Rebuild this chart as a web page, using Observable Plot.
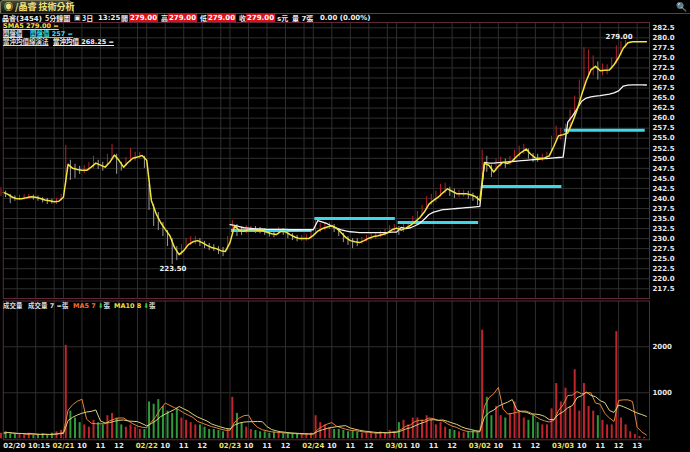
<!DOCTYPE html>
<html><head><meta charset="utf-8">
<script src="https://cdn.jsdelivr.net/npm/d3@7"></script>
<script src="https://cdn.jsdelivr.net/npm/@observablehq/plot@0.6"></script>
<style>
html,body{margin:0;padding:0;background:#000;}
body{width:690px;height:452px;position:relative;overflow:hidden;font-family:"DejaVu Sans","Noto Sans CJK TC",sans-serif;color:#e8e8e8;}
.abs{position:absolute;white-space:nowrap;}
#tab{left:0;top:0;width:72px;height:12px;background:linear-gradient(#44443a,#141410);border:1px solid #77775a;border-bottom:none;border-radius:3px 7px 0 0;}
#tabtxt{left:4px;top:0;font:bold 9px "Noto Sans CJK TC";color:#f2e27a;line-height:13px;}
#tabline{left:0;top:13px;width:690px;height:1px;background:#4a4a38;}
.hdr{top:14px;font:bold 7px "DejaVu Sans","Noto Sans CJK TC";line-height:9px;color:#eee;}
.cj{font:bold 7px "Noto Sans CJK TC";line-height:9px;}
.box{background:#d8101a;color:#fff;padding:0 1px;}
.leg{font:bold 6.5px "DejaVu Sans","Noto Sans CJK TC";line-height:7px;}
.u{text-decoration:underline;}
#price,#vol{position:absolute;left:0;}
#price{top:0;} #vol{top:298px;}
</style></head>
<body>
<div id="tab" class="abs"></div>
<div id="tabtxt" class="abs">◉ /晶睿 技術分析</div>
<div id="tabline" class="abs"></div>
<div class="abs hdr" style="left:2px"><span class="cj">晶睿</span>(3454)</div>
<div class="abs hdr cj" style="left:45px;top:14px">5分鐘圖</div>
<div class="abs hdr" style="left:74px">▣</div>
<div class="abs hdr cj" style="left:82px;top:14px">3日</div>
<div class="abs hdr" style="left:98px">13:25</div>
<div class="abs hdr cj" style="left:121px;top:14px">開</div><div class="abs hdr box" style="left:129px">279.00</div>
<div class="abs hdr cj" style="left:161px;top:14px">高</div><div class="abs hdr box" style="left:168px">279.00</div>
<div class="abs hdr cj" style="left:200px;top:14px">低</div><div class="abs hdr box" style="left:207px">279.00</div>
<div class="abs hdr cj" style="left:239px;top:14px">收</div><div class="abs hdr box" style="left:246px">279.00</div>
<div class="abs hdr" style="left:277px">s<span class="cj">元</span></div>
<div class="abs hdr" style="left:292px"><span class="cj">量</span> 7<span class="cj">張</span></div>
<div class="abs hdr" style="left:320px">0.00 (0.00%)</div>
<div class="abs" style="left:676px;top:2px;color:#8ab;font:bold 9px 'DejaVu Sans'">🔍</div>
<div id="price"></div>
<div id="vol"></div>
<div class="abs leg u" style="left:3px;top:23px;color:#f0e040">SMA5 279.00 =</div>
<div class="abs leg u" style="left:3px;top:31px;color:#ddd">開盤價</div>
<div class="abs leg u" style="left:30px;top:31px;color:#3dd8e8">開盤價 257 =</div>
<div class="abs leg u" style="left:3px;top:39px;color:#ddd">當沖均價線演法</div>
<div class="abs leg u" style="left:53px;top:39px;color:#eee">當沖均價 268.25 =</div>
<div class="abs leg" style="left:3px;top:303px;color:#ddd">成交量</div>
<div class="abs leg" style="left:28px;top:303px;color:#ddd">成交量 7 =張</div>
<div class="abs leg" style="left:73px;top:303px;color:#f07030">MA5 7 <span style="color:#3c3">⬇</span><span style="color:#ddd">張</span></div>
<div class="abs leg" style="left:114px;top:303px;color:#e8e040">MA10 8 <span style="color:#3c3">⬇</span><span style="color:#ddd">張</span></div>
<script>
// 15-minute samples, continuous minute axis (each trading day = 270 min, 09:00-13:30)
const startMinute = 75;       // 02/20 10:15
const stepMinutes = 15;
const dayLabels = ["02/21","02/22","02/23","02/24","03/01","03/02","03/03"];
const firstLabel = "02/20 10:15";
const hourLabels = ["10","11","12","13"];
const priceTicks = [217.5,220,222.5,225,227.5,230,232.5,235,237.5,240,242.5,245,247.5,250,252.5,255,257.5,260,262.5,265,267.5,270,272.5,275,277.5,280,282.5];
const volTicks = [1000,2000];

// SMA5 (yellow line) read at each 15-min sample
const sma5 = [241.5,241.0,240.3,239.9,239.9,240.2,240.4,240.3,240.0,239.6,239.4,239.2,239.3,240.3,
248.5,247.5,247.2,247.0,247.0,247.8,248.8,248.3,247.8,249.0,250.8,249.5,247.8,249.0,250.0,250.3,250.7,249.5,
239.5,236.3,234.0,232.3,230.7,227.8,226.0,227.0,228.5,229.2,229.5,229.0,228.3,227.8,227.5,227.0,226.8,229.0,
233.2,232.0,231.8,232.2,232.2,232.1,232.0,231.6,231.2,231.0,231.8,231.7,231.0,230.4,230.0,230.0,230.0,230.8,
231.9,232.5,232.9,233.2,232.6,231.5,230.3,229.5,229.2,229.0,229.5,230.1,230.5,230.7,231.0,231.4,232.2,232.6,
232.1,232.6,233.3,234.2,235.2,236.6,238.6,239.5,240.3,241.4,242.4,241.8,241.2,241.2,241.2,240.9,240.5,239.5,
248.8,248.2,246.6,248.0,249.0,248.7,249.3,250.5,251.5,252.3,251.0,250.1,250.0,250.1,250.6,253.0,255.6,255.9,
256.3,259.0,262.0,265.8,269.3,272.0,272.9,271.8,271.9,272.0,273.3,275.1,277.4,278.8,279.0,279.0,279.0,279.0];
const highs = [242.7,241.8,241.0,240.6,240.8,240.9,241.0,240.8,240.6,240.2,240.0,239.8,240.0,241.0,
253.2,249.5,248.5,248.0,248.2,249.0,250.5,249.5,249.0,251.0,253.5,251.0,249.0,250.2,252.5,251.5,251.5,250.5,
243.5,238.5,236.5,234.0,232.0,230.0,228.0,228.5,230.0,230.5,230.5,230.0,229.3,228.8,228.5,228.0,227.8,230.5,
234.5,233.5,232.8,233.2,233.0,233.0,232.8,232.5,232.0,231.8,232.8,232.5,231.8,231.2,230.8,230.8,231.0,231.5,
234.5,233.8,234.0,234.0,233.5,232.5,231.3,230.5,230.0,230.0,230.3,230.8,231.3,231.5,231.8,232.3,233.2,233.5,
233.0,233.5,234.3,235.5,236.8,238.3,240.5,241.0,241.8,243.5,243.8,242.8,242.3,242.0,242.0,241.8,241.3,240.5,
252.0,250.5,248.3,249.8,250.3,249.8,250.5,252.0,253.0,253.5,252.3,251.2,251.0,251.0,251.5,255.5,258.0,257.5,
258.5,262.0,265.5,269.5,277.5,277.0,275.5,274.0,273.5,273.3,275.0,278.0,279.0,279.3,279.0,279.0,279.0,279.0];
const lows = [240.5,240.2,238.7,239.3,239.4,239.6,239.8,239.6,239.3,238.9,238.5,238.6,238.5,239.3,
243.2,244.5,245.0,246.0,246.2,246.8,247.5,247.2,246.8,248.0,249.5,246.0,246.8,248.0,249.0,249.3,249.8,247.5,
237.0,233.0,232.0,230.5,228.0,223.5,224.5,225.8,227.3,228.2,228.5,228.0,227.5,227.0,226.8,226.0,225.5,227.0,
231.0,230.5,230.8,231.2,231.5,231.3,231.2,230.8,230.4,230.2,231.0,230.8,230.0,229.5,229.2,229.3,229.3,229.8,
231.0,231.5,232.0,232.3,231.5,230.5,229.0,228.3,227.5,228.0,228.6,229.2,229.6,229.8,230.2,230.5,231.3,231.8,
230.8,231.5,232.3,233.3,234.2,235.5,237.3,238.3,239.0,240.3,241.2,240.5,240.0,240.2,240.3,239.8,239.3,238.2,
244.0,246.5,245.2,246.8,247.8,247.5,248.2,249.3,250.2,251.0,249.8,249.0,249.0,249.2,249.6,251.5,254.0,254.5,
254.8,257.0,260.0,263.5,267.0,270.0,270.5,269.5,270.5,270.8,272.0,273.5,275.5,277.5,278.5,279.0,279.0,279.0];
// 當沖均價 (white), from 02/23 on (sample index 49..139)
const vwapStart = 49;
const vwap = [233.5,
233.3,233.0,232.7,232.6,232.5,232.4,232.4,232.3,232.3,232.3,232.3,232.3,232.2,232.2,232.2,232.2,232.2,232.2,
234.5,234.1,233.7,233.1,232.6,232.2,231.9,231.7,231.6,231.5,231.5,231.5,231.5,231.5,231.5,231.5,231.6,231.6,
232.8,232.5,232.7,233.2,233.8,234.8,236.0,236.6,236.9,237.2,237.3,237.4,237.5,237.6,237.7,237.8,237.9,238.0,
249.0,248.8,248.8,248.9,249.0,249.1,249.2,249.3,249.4,249.5,249.6,249.7,249.8,249.9,250.0,250.1,250.2,250.3,
259.0,260.5,262.3,264.2,265.0,265.3,265.5,265.6,265.8,266.0,266.3,266.8,268.0,268.2,268.3,268.3,268.3,268.25];
// 開盤價 (cyan) per day, day index 3..7
const openDays = [3,4,5,6,7];
const openPrices = [232,235,234,243,257];
// volume (張) per sample
const volume = [120,150,100,90,110,80,120,70,90,110,80,120,150,180,
2030,600,450,350,300,250,400,350,300,500,550,450,300,250,300,250,200,200,
800,750,850,700,600,550,650,450,400,350,300,300,250,200,200,180,150,200,
900,550,350,250,200,180,150,150,120,140,120,110,100,110,100,90,100,120,
500,350,300,250,200,200,180,150,170,140,120,130,110,120,150,130,180,150,
350,400,300,450,450,400,500,400,300,350,250,200,180,150,130,150,170,150,
2360,900,500,700,500,450,550,800,600,450,400,500,350,300,300,650,1200,800,
1100,700,1500,600,1200,700,600,500,400,300,300,2330,450,300,150,90,50,30];

const DAY = 270;
const tOf = i => startMinute + stepMinutes * i;
const rows = sma5.map((v, i) => ({
  t: tOf(i), sma: v, hi: highs[i], lo: lows[i], vol: volume[i],
  up: i === 0 ? true : v >= sma5[i - 1]
}));
const vwapRows = vwap.map((v, j) => ({t: tOf(vwapStart + j), v}));
const openRows = openDays.map((d, k) => ({x1: d * DAY + 5, x2: d * DAY + 266, y: openPrices[k]}));
const dayTicks = dayLabels.map((_, k) => (k + 1) * DAY);
const hourTicks = [];
for (let d = 1; d <= 7; d++) for (let h = 1; h <= 3; h++) hourTicks.push(d * DAY + 60 * h);
hourTicks.push(7 * DAY + 240);
const gridX = [120,180,240];
for (let d = 1; d <= 7; d++) for (let h = 0; h <= 4; h++) gridX.push(d * DAY + 60 * h);
const labelOf = new Map();
dayTicks.forEach((t, k) => labelOf.set(t, dayLabels[k]));
hourTicks.forEach(t => labelOf.set(t, hourLabels[((t % DAY) / 60) - 1]));

const xDomain = [75, 2170];
const W = 690, ML = 2.8, MR = 41;
const grid = "#2f2f2f";
const frame = "#5e2838";
const font = {fontFamily: "DejaVu Sans", fontWeight: "bold", fontSize: 7};

const hiRow = rows.reduce((a, b) => (b.sma > a.sma ? b : a));
const loRow = rows.reduce((a, b) => (b.lo < a.lo ? b : a));

const price = Plot.plot({
  width: W, height: 300, marginTop: 22, marginBottom: 2, marginLeft: ML, marginRight: MR,
  style: {background: "transparent", overflow: "visible"},
  x: {domain: xDomain, axis: null},
  y: {domain: [215.08, 283.82], axis: null},
  marks: [
    Plot.ruleY(priceTicks, {stroke: grid, strokeWidth: 1}),
    Plot.ruleX(gridX, {stroke: grid, strokeWidth: 1}),
    Plot.ruleX(rows, {x: d => d.t - 7.5, y1: "lo", y2: "hi", stroke: d => d.up ? "#b3232b" : "#9c9c9c", strokeWidth: 1}),
    Plot.ruleY(openRows, {x1: "x1", x2: "x2", y: "y", stroke: "#3fd6e6", strokeWidth: 3}),
    Plot.line(vwapRows, {x: "t", y: "v", stroke: "#f4f4f4", strokeWidth: 1.3}),
    Plot.line(rows, {x: "t", y: "sma", stroke: "#f2e63a", strokeWidth: 1.5}),
    Plot.text([hiRow], {x: d => tOf(136), y: "sma", text: d => d.sma.toFixed(2), textAnchor: "end", dy: -5, fill: "#eee", ...font}),
    Plot.text([loRow], {x: d => d.t - 5, y: "lo", text: d => d.lo.toFixed(2), lineAnchor: "top", dy: 1, fill: "#eee", ...font}),
    Plot.axisY(priceTicks, {anchor: "right", label: null, tickSize: 0, tickPadding: 3, tickFormat: d => d.toFixed(1), fill: "#e6e6e6", ...font}),
    Plot.frame({stroke: frame, strokeWidth: 1})
  ]
});
document.getElementById("price").append(price);

const vol = Plot.plot({
  width: W, height: 154, marginTop: 2.5, marginBottom: 12.7, marginLeft: ML, marginRight: MR,
  style: {background: "transparent", overflow: "visible"},
  x: {domain: xDomain, axis: null},
  y: {domain: [-24, 2996], axis: null},
  marks: [
    Plot.ruleY(volTicks, {stroke: grid}),
    Plot.ruleX(gridX, {stroke: grid}),
    Plot.ruleX(rows, {x: d => d.t - 7.5, y1: 0, y2: "vol", stroke: d => d.up ? "#c0242c" : "#2f9a3a", strokeWidth: 2}),
    Plot.lineY(rows, Plot.windowY({k: 4, anchor: "end"}, {x: "t", y: "vol", stroke: "#e0863a", strokeWidth: 1})),
    Plot.lineY(rows, Plot.windowY({k: 7, anchor: "end"}, {x: "t", y: "vol", stroke: "#d8d27e", strokeWidth: 1})),
    Plot.axisY(volTicks, {anchor: "right", label: null, tickSize: 0, tickPadding: 3, tickFormat: d => String(d), fill: "#e6e6e6", ...font}),
    Plot.axisX(dayTicks, {anchor: "bottom", label: null, tickSize: 0, tickPadding: 3, tickFormat: t => labelOf.get(t), fill: "#eee25a", ...font}),
    Plot.axisX(hourTicks, {anchor: "bottom", label: null, tickSize: 0, tickPadding: 3, tickFormat: t => labelOf.get(t), fill: "#e6e6e6", ...font}),
    Plot.axisX([startMinute], {anchor: "bottom", label: null, tickSize: 0, tickPadding: 3, tickFormat: () => firstLabel, textAnchor: "start", fill: "#e6e6e6", ...font}),
    Plot.frame({stroke: frame, strokeWidth: 1})
  ]
});
document.getElementById("vol").append(vol);
</script>
</body></html>
